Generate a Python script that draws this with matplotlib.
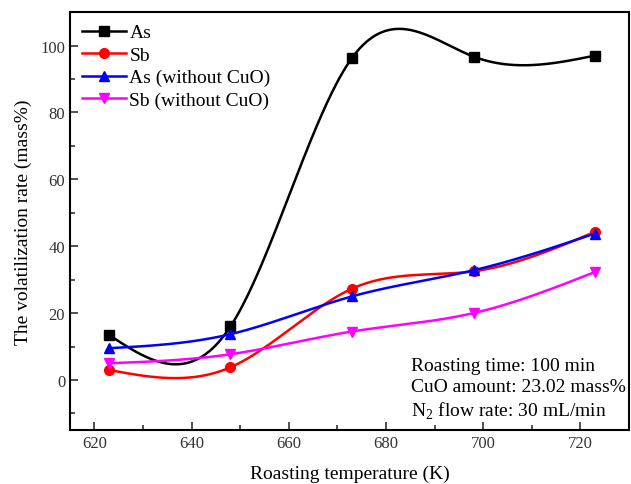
import numpy as np
import matplotlib
matplotlib.use("Agg")
import matplotlib.pyplot as plt
from matplotlib.ticker import MultipleLocator

plt.rcParams.update({
    "font.family": ["Liberation Serif", "DejaVu Serif"],
    "font.size": 12,
    "mathtext.fontset": "custom",
    "mathtext.rm": "Liberation Serif",
})

# ── Data ────────────────────────────────────────────────────────────────────
temperature = [623, 648, 673, 698, 723]
as_rate = [13.5, 16.0, 96.3, 96.7, 97.0]
sb_rate = [3.0, 3.8, 27.3, 32.5, 44.3]
as_no_cuo = [9.5, 13.7, 25.0, 32.8, 43.8]
sb_no_cuo = [5.0, 7.7, 14.5, 20.0, 32.3]

series = [
    ("As", as_rate, "black", "s"),
    ("Sb", sb_rate, "red", "o"),
    ("As (without CuO)", as_no_cuo, "blue", "^"),
    ("Sb (without CuO)", sb_no_cuo, "magenta", "v"),
]


def natural_spline(x, y, n=300):
    """Natural cubic spline through the points, for a smooth connecting line."""
    x = np.asarray(x, float)
    y = np.asarray(y, float)
    k = len(x)
    h = np.diff(x)
    A = np.zeros((k, k))
    b = np.zeros(k)
    A[0, 0] = A[-1, -1] = 1.0
    for i in range(1, k - 1):
        A[i, i - 1] = h[i - 1]
        A[i, i] = 2 * (h[i - 1] + h[i])
        A[i, i + 1] = h[i]
        b[i] = 6 * ((y[i + 1] - y[i]) / h[i] - (y[i] - y[i - 1]) / h[i - 1])
    m = np.linalg.solve(A, b)
    xs = np.linspace(x[0], x[-1], n)
    idx = np.clip(np.searchsorted(x, xs) - 1, 0, k - 2)
    x0, x1 = x[idx], x[idx + 1]
    hh = x1 - x0
    t0, t1 = x1 - xs, xs - x0
    ys = (m[idx] * t0 ** 3 + m[idx + 1] * t1 ** 3) / (6 * hh) \
        + (y[idx] / hh - m[idx] * hh / 6) * t0 \
        + (y[idx + 1] / hh - m[idx + 1] * hh / 6) * t1
    return xs, ys


fig = plt.figure(figsize=(6.31, 4.85), dpi=100)
ax = fig.add_axes([0.111, 0.111, 0.886, 0.862])

for label, values, color, marker in series:
    xs, ys = natural_spline(temperature, values)
    ax.plot(xs, ys, color=color, lw=1.8)
    ax.plot(temperature, values, ls="none", marker=marker, color=color, ms=7)
    ax.plot([], [], color=color, lw=1.8, marker=marker, ms=7, label=label)

ax.set_xlim(615, 730)
ax.set_ylim(-15, 110)
ax.xaxis.set_major_locator(MultipleLocator(20))
ax.xaxis.set_minor_locator(MultipleLocator(10))
ax.yaxis.set_major_locator(MultipleLocator(20))
ax.yaxis.set_minor_locator(MultipleLocator(10))
ax.set_yticks([0, 20, 40, 60, 80, 100])
ax.tick_params(which="both", direction="in", width=1.2, labelsize=12, colors="#333333")
ax.tick_params(which="major", length=6)
ax.tick_params(which="minor", length=3.5)
for spine in ax.spines.values():
    spine.set_linewidth(1.5)

ax.set_xlabel("Roasting temperature (K)", fontsize=14, labelpad=10)
ax.set_ylabel("The volatilization rate (mass%)", fontsize=14, labelpad=6)

ax.legend(loc="upper left", frameon=False, fontsize=14, handlelength=2.3,
          handletextpad=0.15, labelspacing=0.25, borderaxespad=0.2,
          bbox_to_anchor=(0.0, 1.0))

ax.text(0.61, 0.098, "Roasting time: 100 min\nCuO amount: 23.02 mass%\nN$_2$ flow rate: 30 mL/min",
        transform=ax.transAxes, fontsize=14, va="center", ha="left", linespacing=1.3)

fig.savefig("out.png", dpi=100)
plt.close(fig)
